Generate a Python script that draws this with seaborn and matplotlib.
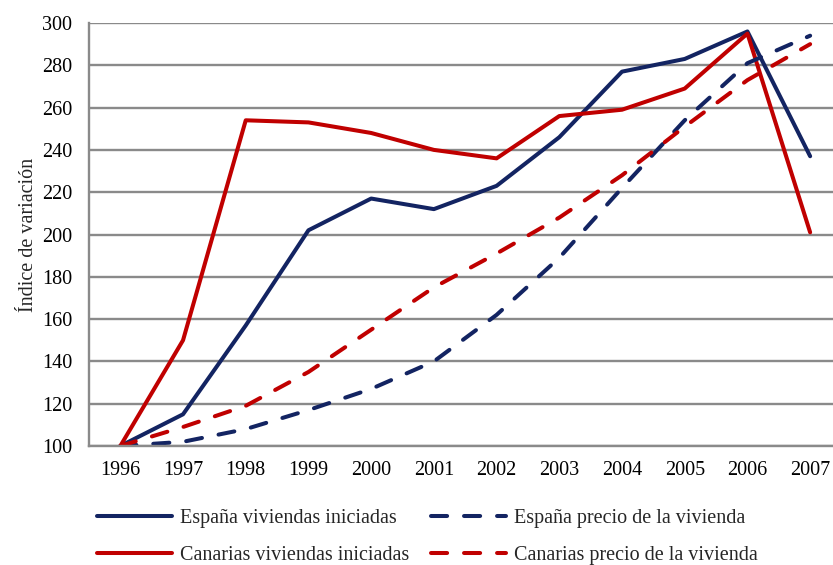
import pandas as pd
import matplotlib.pyplot as plt
import seaborn as sns

years = [1996, 1997, 1998, 1999, 2000, 2001, 2002, 2003, 2004, 2005, 2006, 2007]
espana_iniciadas = [100, 115, 157, 202, 217, 212, 223, 246, 277, 283, 296, 237]
espana_precio = [100, 102, 108, 117, 127, 140, 162, 189, 222, 254, 281, 294]
canarias_iniciadas = [100, 150, 254, 253, 248, 240, 236, 256, 259, 269, 295, 201]
canarias_precio = [100, 109, 119, 135, 155, 175, 191, 208, 228, 251, 273, 290]

names = ['España viviendas iniciadas', 'Canarias viviendas iniciadas',
         'España precio de la vivienda', 'Canarias precio de la vivienda']
series = [espana_iniciadas, canarias_iniciadas, espana_precio, canarias_precio]

rows = []
for n, vals in zip(names, series):
    for y, v in zip(years, vals):
        rows.append({'anio': y, 'valor': v, 'serie': n})
df = pd.DataFrame(rows)

navy = '#132462'
red = '#c00000'
palette = {names[0]: navy, names[1]: red, names[2]: navy, names[3]: red}
dashes = {names[0]: '', names[1]: '', names[2]: (4, 4.2), names[3]: (4, 4.2)}

sns.set_style('white')
plt.rcParams['font.family'] = ['Liberation Serif', 'DejaVu Serif']
fs = 14.5

fig = plt.figure(figsize=(8.33, 5.65), dpi=100)
ax = fig.add_axes([0.1068, 0.2106, 0.9034, 0.7487])

sns.lineplot(data=df, x='anio', y='valor', hue='serie', style='serie',
             hue_order=names, style_order=names, palette=palette, dashes=dashes,
             linewidth=2.9, legend=False, ax=ax,
             solid_capstyle='round', dash_capstyle='round')

ax.set_xlim(1995.5, 2007.5)
ax.set_ylim(100, 300)
ax.set_xticks(years)
ax.set_xticklabels([str(y) for y in years])
ax.set_yticks(range(100, 301, 20))
ax.yaxis.grid(True, color='#8a8a8a', linewidth=1.7)
ax.set_axisbelow(True)
for s in ['top', 'right']:
    ax.spines[s].set_visible(False)
for s in ['left', 'bottom']:
    ax.spines[s].set_color('#8a8a8a')
    ax.spines[s].set_linewidth(1.7)
ax.tick_params(axis='both', length=0, labelsize=fs, colors='black')
ax.tick_params(axis='y', pad=12)
ax.tick_params(axis='x', pad=11)
ax.set_xlabel('')
ax.set_ylabel('Índice de variación', fontsize=fs, labelpad=3)

handles = ax.get_lines()[:4]
fig.legend(handles, names, loc='center', bbox_to_anchor=(0.513, 0.049), ncol=2,
           frameon=False, handlelength=3.7, handletextpad=0.4,
           columnspacing=1.1, labelspacing=0.9, fontsize=fs)

fig.savefig('out.png', dpi=100)
